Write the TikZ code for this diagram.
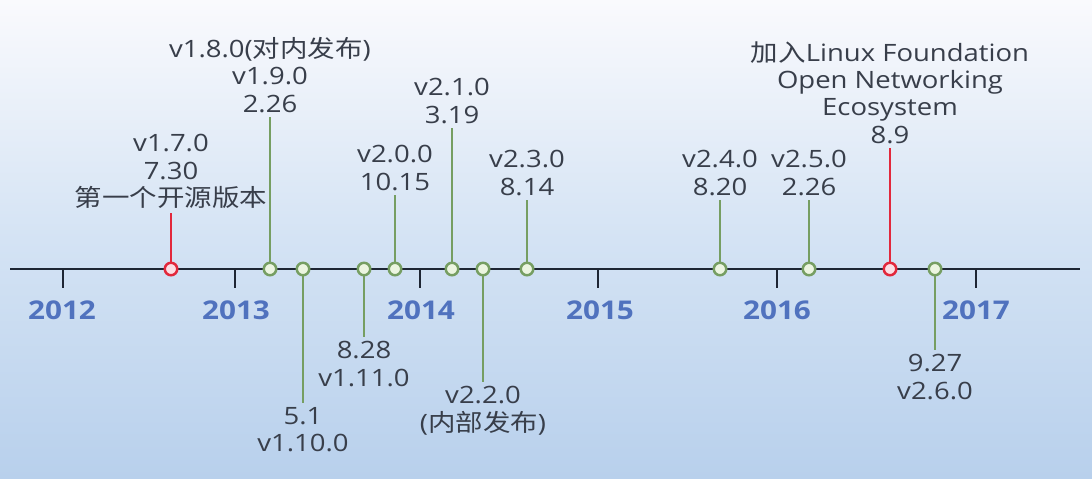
\documentclass[tikz,border=0pt]{standalone}
\usepackage{fontspec}
\setmainfont{Open Sans}[FakeStretch=1.15]
\newfontfamily\cjk{Noto Sans CJK SC}[FakeStretch=1.15]
\usetikzlibrary{positioning}
\definecolor{axiscol}{RGB}{30,38,52}
\definecolor{relgreen}{RGB}{118,158,98}
\definecolor{relgreenfill}{RGB}{236,245,224}
\definecolor{relred}{RGB}{226,40,60}
\definecolor{relredfill}{RGB}{252,222,228}
\definecolor{textcol}{RGB}{56,62,74}
\definecolor{yearcol}{RGB}{80,114,190}
\definecolor{bgtop}{RGB}{250,250,253}
\definecolor{bgmid}{RGB}{212,227,244}
\definecolor{bgbot}{RGB}{184,208,236}
\tikzset{
axis/.style={draw=axiscol, line width=1.4pt},
tick/.style={draw=axiscol, line width=1.4pt},
year/.style={text=yearcol, font=\fontsize{14.7pt}{16pt}\selectfont\bfseries},
release/.style={circle, draw=relgreen, fill=relgreenfill, line width=1.4pt,
  minimum size=0.25cm, inner sep=0pt},
milestone/.style={release, draw=relred, fill=relredfill},
lbl/.style={align=center, text=textcol, inner sep=2pt,
  font=\fontsize{13.6pt}{15.6pt}\selectfont},
stem/.style={draw=relgreen, line width=1.1pt},
redstem/.style={stem, draw=relred},
}

\begin{document}
\begin{tikzpicture}
    [x=0.02cm, y=-0.02cm]
    \useasboundingbox (0,0) rectangle (1092,478);
    \shade[top color=bgtop, bottom color=bgbot, middle color=bgmid] (0,0) rectangle (1092,478);

    % time axis
    \coordinate (start) at (10,269);
    \coordinate (end) at (1080,269);
    \draw[axis] (start) -- (end);

    % years
    \draw[tick] (63,269) -- (63,288);
    \draw[tick] (235,269) -- (235,288);
    \draw[tick] (420,269) -- (420,288);
    \draw[tick] (598,269) -- (598,288);
    \draw[tick] (777,269) -- (777,288);
    \draw[tick] (976,269) -- (976,288);
    \node [year] (y2012) at (62,310) {2012};
    \node [year] (y2013) at (236,310) {2013};
    \node [year] (y2014) at (421,310) {2014};
    \node [year] (y2015) at (600,310) {2015};
    \node [year] (y2016) at (777,310) {2016};
    \node [year] (y2017) at (976,310) {2017};

    % releases on the axis
    \node [milestone] (v170) at (171,269) {};
    \node [release] (v190) at (270,269) {};
    \node [release] (v1100) at (303,269) {};
    \node [release] (v1110) at (364,269) {};
    \node [release] (v200) at (395,269) {};
    \node [release] (v210) at (452,269) {};
    \node [release] (v220) at (483,269) {};
    \node [release] (v230) at (527,269) {};
    \node [release] (v240) at (720,269) {};
    \node [release] (v250) at (809,269) {};
    \node [milestone] (lf) at (890,269) {};
    \node [release] (v260) at (935,269) {};

    % labels
    \node [lbl, above=0.98cm of v170] (v170txt)
    {
        v1.7.0\\
        7.30\\
        {\cjk 第一个开源版本}
    };
    \node [lbl, above=2.90cm of v190] (v190txt)
    {
        v1.8.0({\cjk 对内发布})\\
        v1.9.0\\
        2.26
    };
    \node [lbl, below=2.54cm of v1100] (v1100txt)
    {
        5.1\\
        v1.10.0
    };
    \node [lbl, below=1.22cm of v1110] (v1110txt)
    {
        8.28\\
        v1.11.0
    };
    \node [lbl, above=1.34cm of v200] (v200txt)
    {
        v2.0.0\\
        10.15
    };
    \node [lbl, above=2.68cm of v210] (v210txt)
    {
        v2.1.0\\
        3.19
    };
    \node [lbl, below=2.12cm of v220] (v220txt)
    {
        v2.2.0\\
        ({\cjk 内部发布})
    };
    \node [lbl, above=1.24cm of v230] (v230txt)
    {
        v2.3.0\\
        8.14
    };
    \node [lbl, above=1.24cm of v240] (v240txt)
    {
        v2.4.0\\
        8.20
    };
    \node [lbl, above=1.24cm of v250] (v250txt)
    {
        v2.5.0\\
        2.26
    };
    \node [lbl, above=2.28cm of lf] (lftxt)
    {
        {\cjk 加入}Linux Foundation\\
        Open Networking\\
        Ecosystem\\
        8.9
    };
    \node [lbl, below=1.48cm of v260] (v260txt)
    {
        9.27\\
        v2.6.0
    };

    \draw[redstem] (v170) -- (v170txt);
    \draw[stem] (v190) -- (v190txt);
    \draw[stem] (v1100) -- (v1100txt);
    \draw[stem] (v1110) -- (v1110txt);
    \draw[stem] (v200) -- (v200txt);
    \draw[stem] (v210) -- (v210txt);
    \draw[stem] (v220) -- (v220txt);
    \draw[stem] (v230) -- (v230txt);
    \draw[stem] (v240) -- (v240txt);
    \draw[stem] (v250) -- (v250txt);
    \draw[redstem] (lf) -- (lftxt);
    \draw[stem] (v260) -- (v260txt);

\end{tikzpicture}
\end{document}
